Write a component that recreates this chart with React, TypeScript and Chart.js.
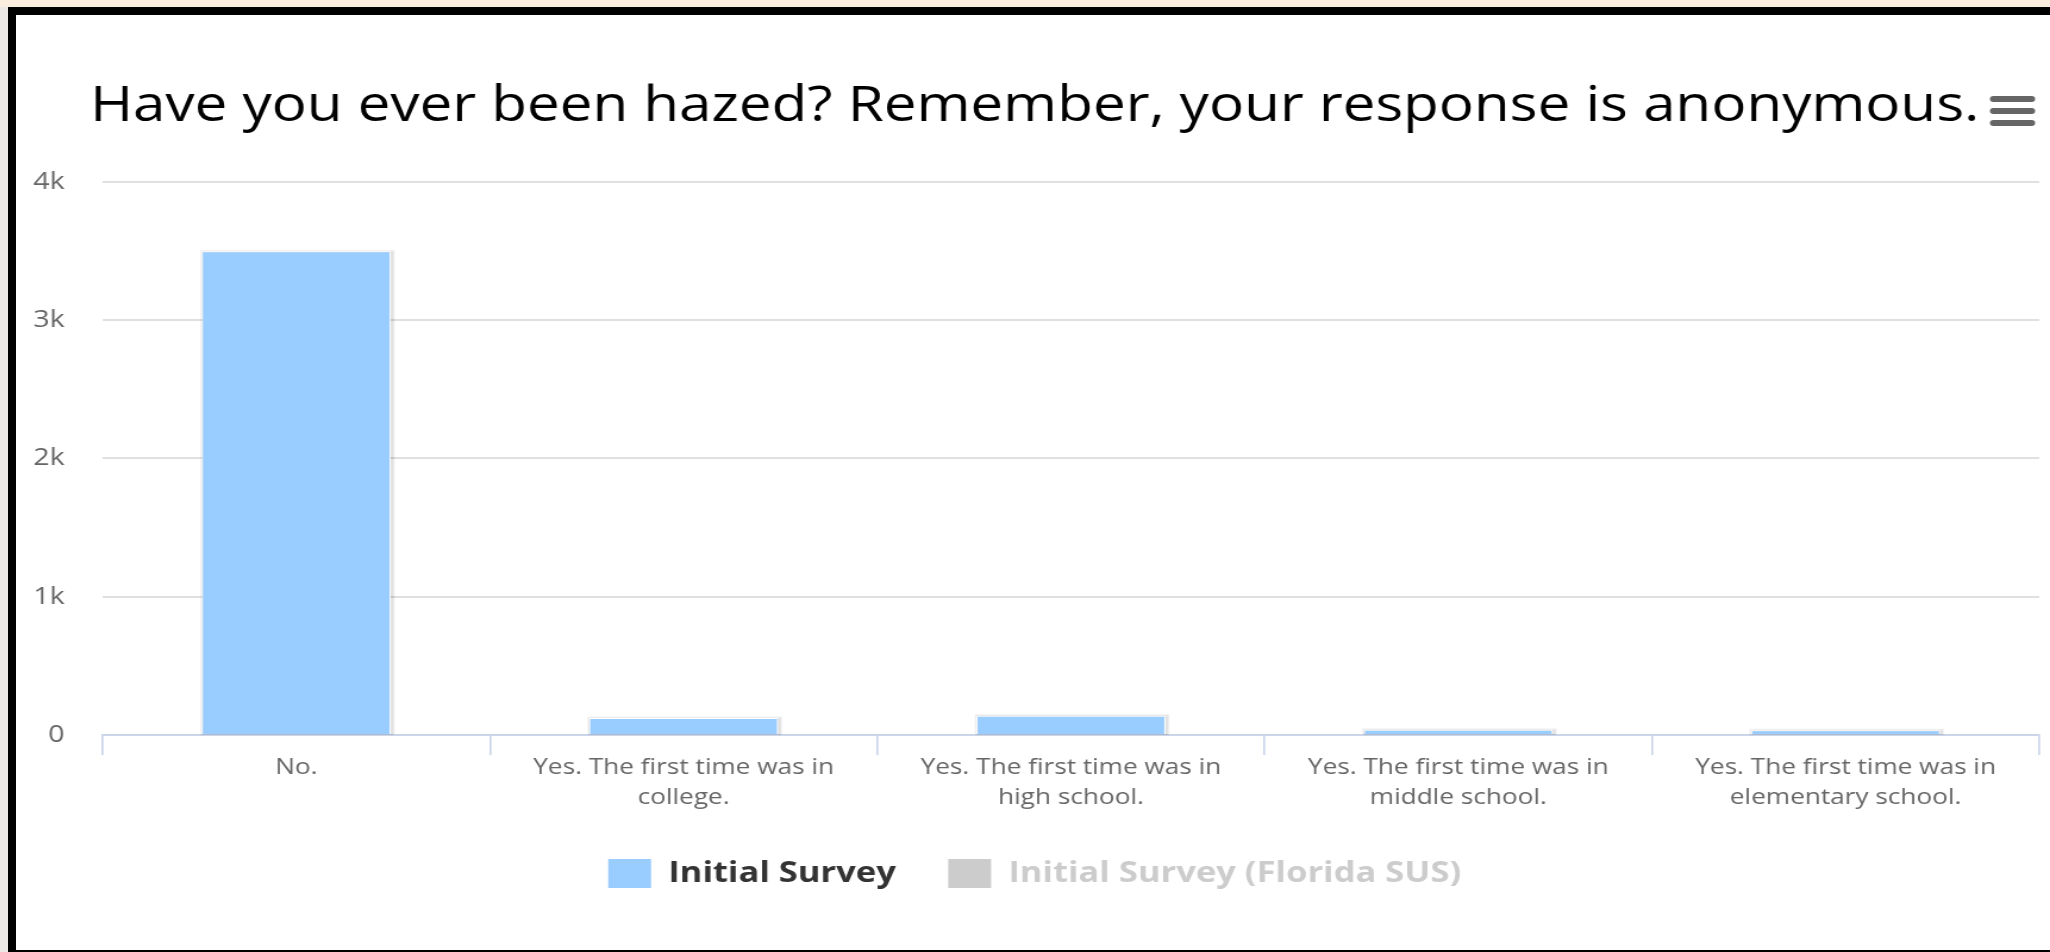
import React, { useEffect, useRef } from "react";
import { Chart, registerables } from "chart.js";

Chart.register(...registerables);

const titleText = "Have you ever been hazed? Remember, your response is anonymous.";
const categoryLabels: string[][] = [
  ["No."],
  ["Yes. The first time was in", "college."],
  ["Yes. The first time was in", "high school."],
  ["Yes. The first time was in", "middle school."],
  ["Yes. The first time was in", "elementary school."],
];
const seriesNames = ["Initial Survey", "Initial Survey (Florida SUS)"];
const initialSurveyValues = [3497, 123, 140, 38, 35];
const floridaSusValues: number[] = [];
const yTickValues = [0, 1000, 2000, 3000, 4000];
const yTickLabels = ["0", "1k", "2k", "3k", "4k"];

const FONT = "'Open Sans', sans-serif";
const STRETCH = 1.19;
const DISPLAY_W = 2020;
const DISPLAY_H = 935;
const BITMAP_W = Math.round(DISPLAY_W / STRETCH);

const shadowPlugin = {
  id: "barShadow",
  beforeDatasetsDraw(chart: any) {
    const ctx = chart.ctx;
    const area = chart.chartArea;
    chart.data.datasets.forEach((_: any, i: number) => {
      if (!chart.isDatasetVisible(i)) return;
      const meta = chart.getDatasetMeta(i);
      ctx.save();
      ctx.beginPath();
      ctx.rect(area.left, area.top - 10, area.right - area.left, area.bottom - area.top + 10);
      ctx.clip();
      meta.data.forEach((el: any) => {
        const p = el.getProps(["x", "y", "base", "width"], true);
        const left = p.x - p.width / 2;
        const top = Math.min(p.y, p.base);
        const h = Math.abs(p.base - p.y);
        [5, 3, 1].forEach((lw) => {
          ctx.lineWidth = lw;
          ctx.strokeStyle = "rgba(0,0,0,0.05)";
          ctx.strokeRect(left + 1, top + 1, p.width, h);
        });
      });
      ctx.restore();
    });
  },
};

const menuPlugin = {
  id: "menuIcon",
  afterDraw(chart: any) {
    const ctx = chart.ctx;
    ctx.save();
    ctx.strokeStyle = "#666666";
    ctx.lineWidth = 6;
    ctx.lineCap = "round";
    [84, 96, 108].forEach((y) => {
      ctx.beginPath();
      ctx.moveTo(1649.5, y);
      ctx.lineTo(1681.5, y);
      ctx.stroke();
    });
    ctx.restore();
  },
};

export default function App() {
  const ref = useRef<HTMLCanvasElement | null>(null);

  useEffect(() => {
    if (!ref.current) return;
    const chart = new Chart(ref.current, {
      type: "bar",
      data: {
        labels: categoryLabels as any,
        datasets: [
          {
            label: seriesNames[0],
            data: initialSurveyValues,
            backgroundColor: "#99ccff",
            borderColor: "#ffffff",
            borderWidth: 1,
            categoryPercentage: 0.8,
            barPercentage: 0.61,
          },
          {
            label: seriesNames[1],
            data: floridaSusValues,
            backgroundColor: "#cccccc",
            borderColor: "#ffffff",
            borderWidth: 1,
            hidden: true,
            categoryPercentage: 0.8,
            barPercentage: 0.61,
          },
        ],
      },
      options: {
        animation: false,
        responsive: false,
        devicePixelRatio: 1,
        layout: { padding: { left: 0, right: 9, top: 0, bottom: 52 } },
        plugins: {
          title: {
            display: true,
            text: titleText,
            color: "#000000",
            font: { family: FONT, size: 49, weight: "normal", lineHeight: 1.2 },
            padding: { top: 63, bottom: 45 },
          },
          legend: {
            position: "bottom",
            onClick: () => {},
            labels: {
              boxWidth: 36,
              boxHeight: 29,
              padding: 44,
              font: { family: FONT, size: 29, weight: "bold" },
              generateLabels: (c: any) =>
                c.data.datasets.map((ds: any, i: number) => {
                  const vis = c.isDatasetVisible(i);
                  return {
                    text: ds.label,
                    fillStyle: vis ? ds.backgroundColor : "#cccccc",
                    strokeStyle: "rgba(0,0,0,0)",
                    lineWidth: 0,
                    fontColor: vis ? "#333333" : "#cccccc",
                    hidden: false,
                    datasetIndex: i,
                  };
                }),
            },
          },
          tooltip: { enabled: false },
        },
        scales: {
          x: {
            z: 1,
            grid: {
              display: true,
              drawOnChartArea: false,
              drawTicks: true,
              tickLength: 20,
              color: "#ccd6eb",
              lineWidth: 1.7,
              offset: true,
            },
            border: { display: true, color: "#ccd6eb", width: 2 },
            ticks: {
              color: "#666666",
              font: { family: FONT, size: 22, lineHeight: 1.36 },
              padding: -2,
              maxRotation: 0,
              minRotation: 0,
              autoSkip: false,
            },
            afterFit: (s: any) => {
              s.height = 80;
            },
          },
          y: {
            min: 0,
            max: 4000,
            border: { display: false },
            grid: {
              color: (c: any) => (c.tick && c.tick.value === 0 ? "rgba(0,0,0,0)" : "#e0e0e0"),
              lineWidth: 2,
              drawTicks: false,
            },
            ticks: {
              stepSize: 1000,
              padding: 32,
              color: "#666666",
              font: { family: FONT, size: 24 },
              callback: (v: any) => {
                const idx = yTickValues.indexOf(Number(v));
                return idx >= 0 ? yTickLabels[idx] : "";
              },
            },
            afterFit: (s: any) => {
              s.width = 61;
            },
          },
        },
      } as any,
      plugins: [shadowPlugin, menuPlugin],
    });
    return () => chart.destroy();
  }, []);

  return (
    <div
      style={{
        position: "fixed",
        left: 0,
        top: 0,
        width: 2050,
        height: 952,
        overflow: "hidden",
        background: "#ebe8e5",
      }}
    >
      <div style={{ position: "absolute", left: 0, top: 0, width: 2050, height: 7, background: "#fbeedf" }} />
      <div
        style={{
          position: "absolute",
          left: 8,
          top: 7,
          width: 2034,
          height: 935,
          borderLeft: "8px solid #000",
          borderTop: "8px solid #000",
          borderBottom: "2px solid #000",
          background: "#ffffff",
        }}
      >
        <canvas
          ref={ref}
          width={BITMAP_W}
          height={DISPLAY_H}
          style={{
            position: "absolute",
            left: 14,
            top: 0,
            width: DISPLAY_W,
            height: DISPLAY_H,
            display: "block",
          }}
        />
      </div>
    </div>
  );
}
